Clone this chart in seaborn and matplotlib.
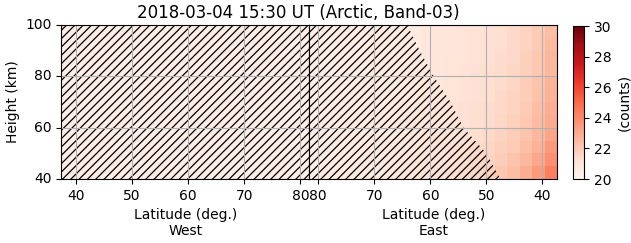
import numpy as np
import matplotlib
matplotlib.use("Agg")
import matplotlib.pyplot as plt
import seaborn as sns

# ---------------- data ----------------
title = "2018-03-04 15:30 UT (Arctic, Band-03)"
lat_min, lat_max = 37.4, 81.6          # latitude span of each half (deg.)
h_min, h_max = 40, 100                 # height span (km)
n_lat = 20                             # latitude cells per half
n_h = 12                               # height cells (5 km each)

lat_ticks = [40, 50, 60, 70, 80]
height_ticks = [40, 60, 80, 100]
cbar_ticks = [20, 22, 24, 26, 28, 30]
vmin, vmax = 20, 30

# West half: uniform low counts (whole region flagged / hatched)
west_row = [20.4, 20.4, 20.4, 20.4, 20.4, 20.4, 20.4, 20.4, 20.4, 20.4,
            20.4, 20.4, 20.4, 20.4, 20.4, 20.4, 20.4, 20.4, 20.4, 20.4]

# East half: rows from 100 km (top) down to 40 km, columns from 81.6 deg down to 37.4 deg
east_values = [
    [20.4, 20.4, 20.5, 20.5, 20.5, 20.6, 20.6, 20.7, 20.7, 20.8, 20.9, 20.9, 21.0, 21.1, 21.2, 21.3, 21.5, 21.7, 22.0, 22.4],
    [20.4, 20.4, 20.5, 20.5, 20.5, 20.6, 20.6, 20.7, 20.7, 20.8, 20.9, 20.9, 21.0, 21.1, 21.2, 21.3, 21.5, 21.7, 22.0, 22.5],
    [20.4, 20.4, 20.5, 20.5, 20.5, 20.6, 20.6, 20.7, 20.8, 20.8, 20.9, 21.0, 21.0, 21.1, 21.2, 21.4, 21.5, 21.8, 22.1, 22.6],
    [20.4, 20.4, 20.5, 20.5, 20.5, 20.6, 20.6, 20.7, 20.8, 20.8, 20.9, 21.0, 21.1, 21.2, 21.3, 21.4, 21.6, 21.8, 22.1, 22.6],
    [20.4, 20.4, 20.5, 20.5, 20.6, 20.6, 20.7, 20.7, 20.8, 20.9, 20.9, 21.0, 21.1, 21.2, 21.3, 21.4, 21.6, 21.9, 22.2, 22.7],
    [20.4, 20.4, 20.5, 20.5, 20.6, 20.6, 20.7, 20.7, 20.8, 20.9, 21.0, 21.0, 21.1, 21.2, 21.3, 21.5, 21.7, 21.9, 22.3, 22.8],
    [20.4, 20.5, 20.5, 20.5, 20.6, 20.6, 20.7, 20.8, 20.8, 20.9, 21.0, 21.1, 21.2, 21.3, 21.4, 21.5, 21.7, 22.0, 22.4, 22.9],
    [20.4, 20.5, 20.5, 20.6, 20.6, 20.7, 20.7, 20.8, 20.9, 20.9, 21.0, 21.1, 21.2, 21.3, 21.4, 21.6, 21.8, 22.1, 22.5, 23.0],
    [20.4, 20.5, 20.5, 20.6, 20.6, 20.7, 20.7, 20.8, 20.9, 21.0, 21.1, 21.1, 21.2, 21.3, 21.5, 21.7, 21.9, 22.2, 22.6, 23.2],
    [20.4, 20.5, 20.5, 20.6, 20.6, 20.7, 20.8, 20.8, 20.9, 21.0, 21.1, 21.2, 21.3, 21.4, 21.6, 21.8, 22.0, 22.4, 22.8, 23.5],
    [20.4, 20.5, 20.5, 20.6, 20.7, 20.7, 20.8, 20.9, 21.0, 21.0, 21.1, 21.2, 21.3, 21.5, 21.7, 21.9, 22.2, 22.6, 23.1, 23.8],
    [20.4, 20.5, 20.6, 20.6, 20.7, 20.7, 20.8, 20.9, 21.0, 21.1, 21.2, 21.3, 21.4, 21.6, 21.8, 22.1, 22.4, 22.9, 23.5, 24.3],
]

# Edge of the flagged (hatched) region on the East side: latitude vs height
east_edge_h = [40, 50, 60, 70, 80, 90, 100]
east_edge_lat = [47.5, 50.0, 54.1, 56.4, 59.4, 61.9, 64.1]

# ---------------- helpers (data -> heatmap index space) ----------------
dlat = (lat_max - lat_min) / n_lat
dh = (h_max - h_min) / n_h


def ix_west(lat):
    return (np.asarray(lat, float) - lat_min) / dlat


def ix_east(lat):
    return (lat_max - np.asarray(lat, float)) / dlat


def iy(h):
    return (h_max - np.asarray(h, float)) / dh


plt.rcParams["hatch.linewidth"] = 0.9

# ---------------- figure ----------------
W, H = 631, 243
fig = plt.figure(figsize=(W / 100, H / 100), dpi=100)
ax_w = fig.add_axes([61.3 / W, 64 / H, 248 / W, 154 / H])
ax_e = fig.add_axes([309.3 / W, 64 / H, 247.7 / W, 154 / H])
cax = fig.add_axes([572.7 / W, 64 / H, 11.6 / W, 153 / H])

west_values = np.tile(np.array(west_row), (n_h, 1))

sns.heatmap(west_values, ax=ax_w, cmap="Reds", vmin=vmin, vmax=vmax, cbar=False)
sns.heatmap(np.array(east_values), ax=ax_e, cmap="Reds", vmin=vmin, vmax=vmax,
            cbar=True, cbar_ax=cax,
            cbar_kws=dict(ticks=cbar_ticks))

# hatched flagged regions
ax_w.fill_betweenx(iy([h_min, h_max]), ix_west(lat_min), ix_west(lat_max),
                   hatch="////", facecolor="none", edgecolor="black", linewidth=0)
ax_e.fill_betweenx(iy(east_edge_h), ix_east(east_edge_lat), ix_east(lat_max),
                   hatch="////", facecolor="none", edgecolor="black", linewidth=0)

for ax, conv, side in [(ax_w, ix_west, "West"), (ax_e, ix_east, "East")]:
    ax.set_xlim(0, n_lat)
    ax.set_ylim(n_h, 0)
    ax.set_xticks(conv(lat_ticks))
    ax.set_xticklabels([str(t) for t in lat_ticks], rotation=0)
    ax.set_yticks(iy(height_ticks))
    ax.set_yticklabels([str(t) for t in height_ticks], rotation=0, va="center")
    ax.tick_params(axis="both", labelsize=10, length=3.5, width=0.8, direction="out",
                   bottom=True, left=True)
    ax.set_xlabel("Latitude (deg.)\n" + side, fontsize=10)
    ax.grid(True, color="#b0b0b0", linewidth=0.8)
    for sp in ax.spines.values():
        sp.set_visible(True)
        sp.set_color("black")
        sp.set_linewidth(0.8)

ax_w.set_ylabel("Height (km)", fontsize=10)
ax_e.set_ylabel("")
ax_e.tick_params(axis="y", left=False, labelleft=False)

cb = ax_e.collections[0].colorbar
cb.outline.set_visible(True)
cb.outline.set_linewidth(0.8)
cb.outline.set_edgecolor("black")
cb.ax.tick_params(labelsize=10, length=3.5, width=0.8)
cb.set_label("(counts)", fontsize=10)

fig.text(298 / W, 1 - 18.5 / H, title, ha="center", va="baseline", fontsize=12)

fig.savefig("out.png", dpi=100)
